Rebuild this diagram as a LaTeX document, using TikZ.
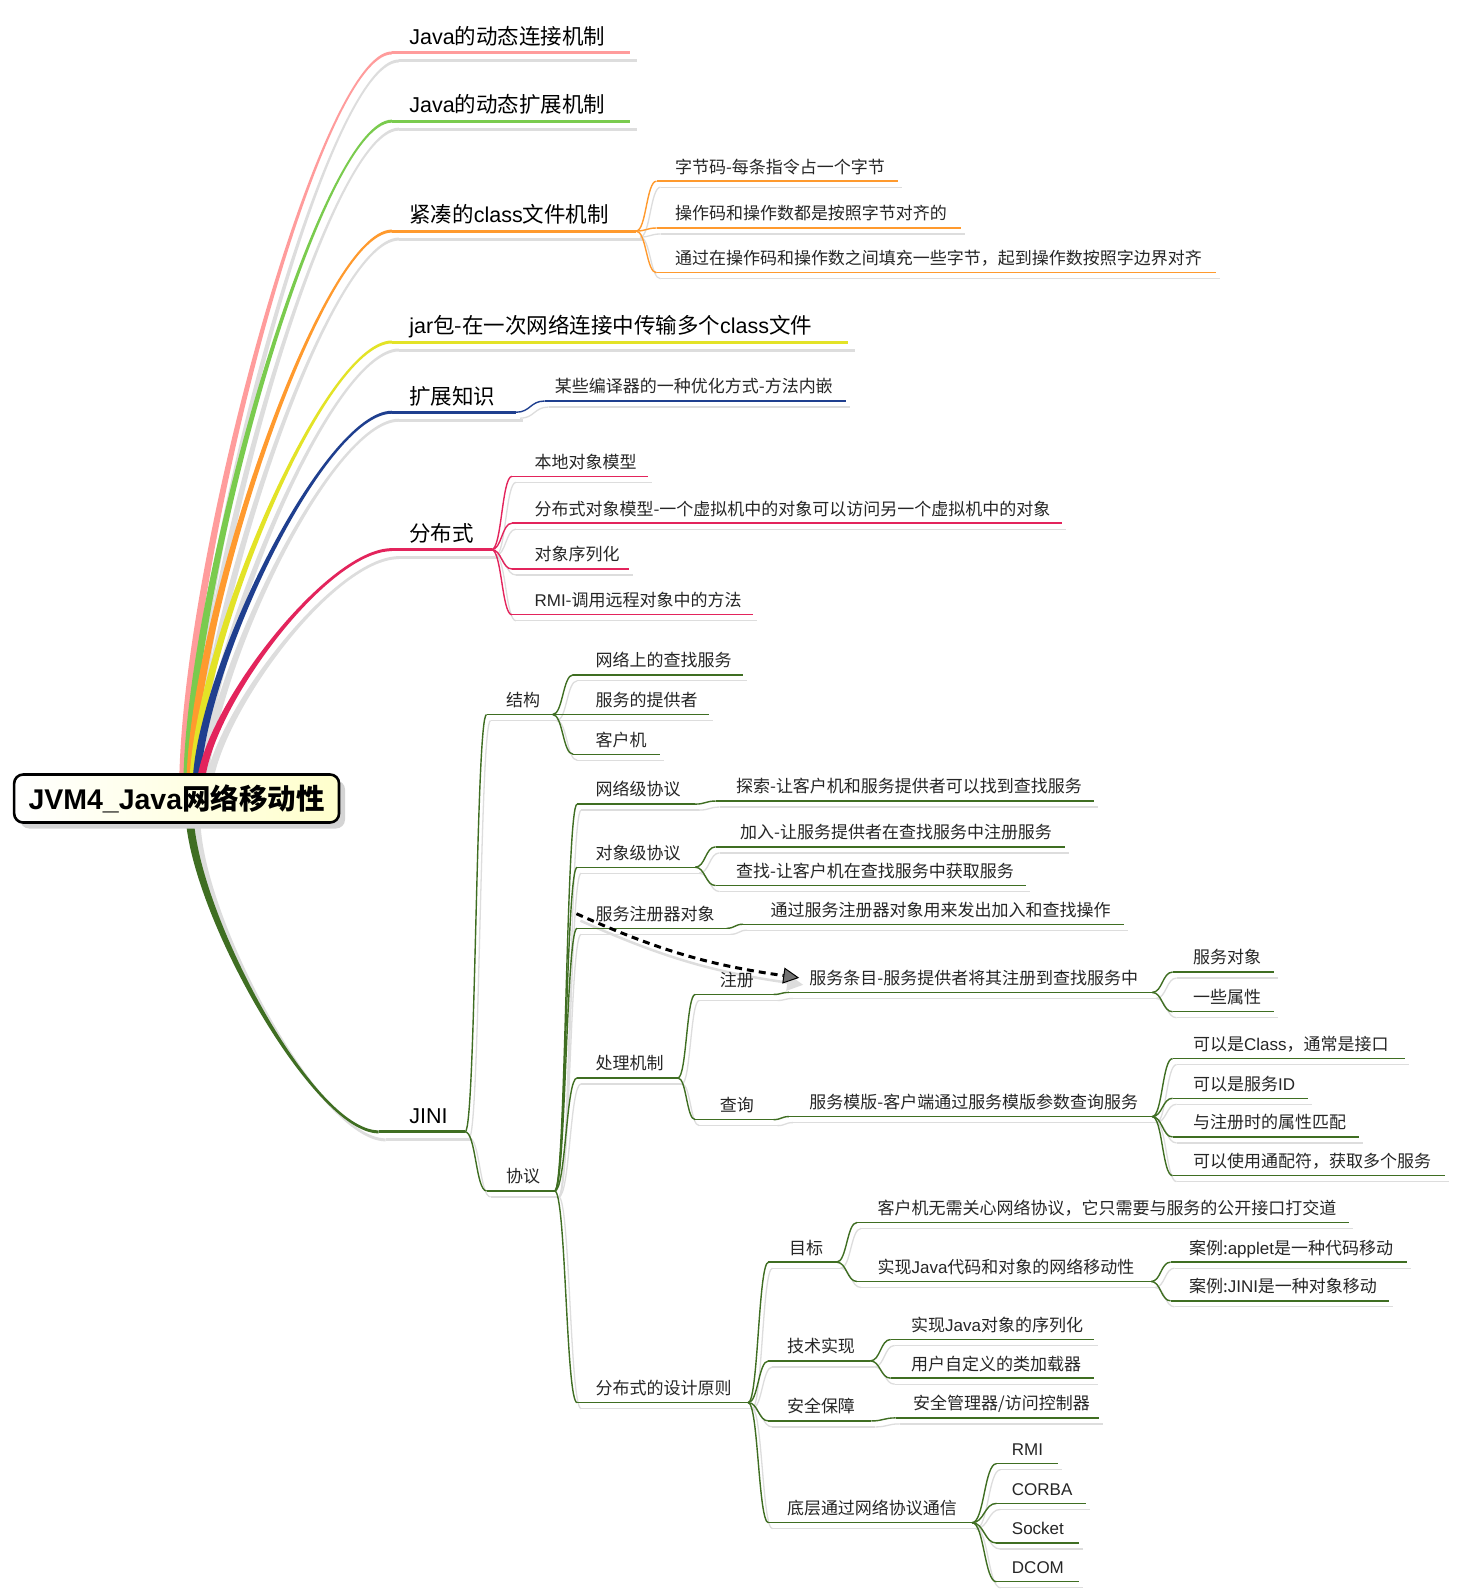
\documentclass[tikz,border=0pt]{standalone}
\usepackage{fontspec}
\setmainfont{Noto Sans CJK SC}
\newfontfamily\lat{Liberation Sans}
\usetikzlibrary{calc,arrows.meta,shadows}
\pgfdeclarelayer{back}
\pgfdeclarelayer{bg}
\pgfsetlayers{back,bg,main}
\definecolor{cpink}{HTML}{FF9C9C}
\definecolor{cgreen}{HTML}{7ACB4E}
\definecolor{corange}{HTML}{FF9A2E}
\definecolor{cyellow}{HTML}{E3E327}
\definecolor{cnavy}{HTML}{1F3F8F}
\definecolor{ccrimson}{HTML}{E3245C}
\definecolor{cdk}{HTML}{3F6E22}
\definecolor{shadowgray}{HTML}{DDDDDD}
\tikzset{
  txtA/.style={inner sep=0pt, font=\fontsize{21.5}{24}\selectfont, text=black},
  txtB/.style={inner sep=0pt, font=\fontsize{17}{20}\selectfont, text=black!85},
  shA/.style={draw=shadowgray, line width=3pt, transform canvas={xshift=7pt,yshift=-8pt}},
  shB/.style={draw=shadowgray, line width=1.3pt, transform canvas={xshift=4pt,yshift=-6pt}},
  lnA/.style={line width=3pt},
  lnB/.style={line width=1.4pt},
  rootbox/.style={draw=black, line width=2.6pt, rounded corners=9pt, minimum width=325pt,
    minimum height=48pt, inner sep=0pt, left color=white, right color=yellow!20,
    drop shadow={shadow xshift=6pt, shadow yshift=-6pt, fill=black!17, opacity=1},
    font=\fontsize{28.5}{32}\selectfont\bfseries},
}
% level-1 topic: name, xstart, xtext, xend, yline, color, text
\newcommand\tpA[7]{%
  \coordinate (#1-s) at (#2,#5);
  \coordinate (#1-e) at (#4,#5);
  \begin{pgfonlayer}{bg}\draw[shA] (#1-s) -- (#1-e);\end{pgfonlayer}
  \draw[lnA,#6] (#1-s) -- (#1-e);
  \node[txtA,anchor=base west] (#1) at (#3,{#5-8}) {#7};
}
% sub topic
\newcommand\tpB[7]{%
  \coordinate (#1-s) at (#2,#5);
  \coordinate (#1-e) at (#4,#5);
  \begin{pgfonlayer}{bg}\draw[shB] (#1-s) -- (#1-e);\end{pgfonlayer}
  \draw[lnB,#6] (#1-s) -- (#1-e);
  \node[txtB,anchor=base west] (#1) at (#3,{#5-8}) {#7};
}
% connector parent -> child
\newcommand\conn[3]{%
  \begin{pgfonlayer}{bg}
  \draw[shB] let \p1=(#1-e), \p2=(#2-s) in (\p1) .. controls ({0.5*\x1+0.5*\x2},{\y1}) and ({0.5*\x1+0.5*\x2},{\y2}) .. (\p2);
  \end{pgfonlayer}
  \draw[lnB,#3] let \p1=(#1-e), \p2=(#2-s) in (\p1) .. controls ({0.5*\x1+0.5*\x2},{\y1}) and ({0.5*\x1+0.5*\x2},{\y2}) .. (\p2);
}
% tapered root branch: start coord, child, color, end half width (signed)
\newcommand\rootbr[4]{%
  \begin{pgfonlayer}{bg}
  \fill[shadowgray, transform canvas={xshift=7pt,yshift=-8pt}] let \p1=(#1), \p2=(#2-s) in
    ({\x1-4pt},{\y1}) .. controls ({\x1-4pt},{0.7*\y1+0.3*\y2}) and ({0.35*\x1+0.65*\x2},{\y2+#4}) .. ({\x2},{\y2+#4})
    -- ({\x2},{\y2-#4}) .. controls ({0.35*\x1+0.65*\x2},{\y2-#4}) and ({\x1+4pt},{0.7*\y1+0.3*\y2}) .. ({\x1+4pt},{\y1}) -- cycle;
  \end{pgfonlayer}
  \fill[#3] let \p1=(#1), \p2=(#2-s) in
    ({\x1-4pt},{\y1}) .. controls ({\x1-4pt},{0.7*\y1+0.3*\y2}) and ({0.35*\x1+0.65*\x2},{\y2+#4}) .. ({\x2},{\y2+#4})
    -- ({\x2},{\y2-#4}) .. controls ({0.35*\x1+0.65*\x2},{\y2-#4}) and ({\x1+4pt},{0.7*\y1+0.3*\y2}) .. ({\x1+4pt},{\y1}) -- cycle;
}
\begin{document}
\begin{tikzpicture}[x=1.0182pt,y=-1.0182pt]
\begin{pgfonlayer}{back}
\fill[white] (0,0) rectangle (1432,1568);
\end{pgfonlayer}
\useasboundingbox (0,0) rectangle (1432,1568);

% ---------- level 1 ----------
\tpA{t1}{385}{402}{619}{52}{cpink}{{\lat Java}的动态连接机制}
\tpA{t2}{385}{402}{619}{119}{cgreen}{{\lat Java}的动态扩展机制}
\tpA{t3}{385}{402}{625}{227}{corange}{紧凑的{\lat class}文件机制}
\tpA{t4}{385}{402}{833}{336}{cyellow}{{\lat jar}包-在一次网络连接中传输多个{\lat class}文件}
\tpA{t5}{385}{402}{507}{405}{cnavy}{扩展知识}
\tpA{t6}{385}{402}{483}{540}{ccrimson}{分布式}
\tpA{t7}{372}{402}{457}{1112}{cdk}{{\lat JINI}}

% ---------- class ----------
\tpB{t31}{645}{663}{882}{178}{corange}{字节码-每条指令占一个字节}
\tpB{t32}{645}{663}{944}{224}{corange}{操作码和操作数都是按照字节对齐的}
\tpB{t33}{645}{663}{1195}{268}{corange}{通过在操作码和操作数之间填充一些字节，起到操作数按照字边界对齐}
\conn{t3}{t31}{corange}
\conn{t3}{t32}{corange}
\conn{t3}{t33}{corange}

% ---------- ext ----------
\tpB{t51}{535}{545}{831}{394}{cnavy}{某些编译器的一种优化方式-方法内嵌}
\conn{t5}{t51}{cnavy}

% ---------- dist ----------
\tpB{t61}{503}{525}{637}{468}{ccrimson}{本地对象模型}
\tpB{t62}{503}{525}{1043}{514}{ccrimson}{分布式对象模型-一个虚拟机中的对象可以访问另一个虚拟机中的对象}
\tpB{t63}{503}{525}{618}{559}{ccrimson}{对象序列化}
\tpB{t64}{503}{525}{740}{604}{ccrimson}{{\lat RMI}-调用远程对象中的方法}
\conn{t6}{t61}{ccrimson}
\conn{t6}{t62}{ccrimson}
\conn{t6}{t63}{ccrimson}
\conn{t6}{t64}{ccrimson}

% ---------- JINI ----------
\tpB{j1}{478}{497}{543}{702}{cdk}{结构}
\tpB{j11}{563}{585}{730}{663}{cdk}{网络上的查找服务}
\tpB{j12}{563}{585}{697}{702}{cdk}{服务的提供者}
\tpB{j13}{563}{585}{648}{741}{cdk}{客户机}
\tpB{j2}{478}{497}{545}{1170}{cdk}{协议}
\tpB{j21}{567}{585}{683}{790}{cdk}{网络级协议}
\tpB{j211}{703}{723}{1075}{787}{cdk}{探索-让客户机和服务提供者可以找到查找服务}
\tpB{j22}{567}{585}{683}{852}{cdk}{对象级协议}
\tpB{j221}{703}{727}{1046}{832}{cdk}{加入-让服务提供者在查找服务中注册服务}
\tpB{j222}{703}{723}{1008}{870}{cdk}{查找-让客户机在查找服务中获取服务}
\tpB{j23}{567}{585}{714}{912}{cdk}{服务注册器对象}
\tpB{j231}{730}{757}{1104}{908}{cdk}{通过服务注册器对象用来发出加入和查找操作}
\tpB{j24}{567}{585}{666}{1059}{cdk}{处理机制}
\tpB{j241}{683}{707}{760}{977}{cdk}{注册}
\tpB{j2411}{775}{795}{1132}{975}{cdk}{服务条目-服务提供者将其注册到查找服务中}
\tpB{j24111}{1152}{1172}{1252}{955}{cdk}{服务对象}
\tpB{j24112}{1152}{1172}{1252}{994}{cdk}{一些属性}
\tpB{j242}{683}{707}{760}{1100}{cdk}{查询}
\tpB{j2421}{775}{795}{1132}{1097}{cdk}{服务模版-客户端通过服务模版参数查询服务}
\tpB{j24211}{1152}{1172}{1380}{1040}{cdk}{可以是{\lat Class}，通常是接口}
\tpB{j24212}{1152}{1172}{1285}{1079}{cdk}{可以是服务{\lat ID}}
\tpB{j24213}{1152}{1172}{1335}{1117}{cdk}{与注册时的属性匹配}
\tpB{j24214}{1152}{1172}{1420}{1155}{cdk}{可以使用通配符，获取多个服务}
\tpB{j25}{567}{585}{735}{1378}{cdk}{分布式的设计原则}
\tpB{j251}{755}{775}{822}{1240}{cdk}{目标}
\tpB{j2511}{842}{862}{1325}{1201}{cdk}{客户机无需关心网络协议，它只需要与服务的公开接口打交道}
\tpB{j2512}{842}{862}{1131}{1259}{cdk}{实现{\lat Java}代码和对象的网络移动性}
\tpB{j25121}{1150}{1168}{1382}{1240}{cdk}{案例:{\lat applet}是一种代码移动}
\tpB{j25122}{1150}{1168}{1365}{1278}{cdk}{案例:{\lat JINI}是一种对象移动}
\tpB{j252}{755}{773}{855}{1337}{cdk}{技术实现}
\tpB{j2521}{875}{895}{1075}{1316}{cdk}{实现{\lat Java}对象的序列化}
\tpB{j2522}{875}{895}{1075}{1354}{cdk}{用户自定义的类加载器}
\tpB{j253}{755}{773}{856}{1396}{cdk}{安全保障}
\tpB{j2531}{880}{897}{1080}{1393}{cdk}{安全管理器/访问控制器}
\tpB{j254}{755}{773}{955}{1496}{cdk}{底层通过网络协议通信}
\tpB{j2541}{979}{994}{1039}{1438}{cdk}{{\lat RMI}}
\tpB{j2542}{979}{994}{1067}{1477}{cdk}{{\lat CORBA}}
\tpB{j2543}{979}{994}{1060}{1516}{cdk}{{\lat Socket}}
\tpB{j2544}{979}{994}{1060}{1554}{cdk}{{\lat DCOM}}

\conn{t7}{j1}{cdk}
\conn{t7}{j2}{cdk}
\conn{j1}{j11}{cdk}
\conn{j1}{j12}{cdk}
\conn{j1}{j13}{cdk}
\conn{j2}{j21}{cdk}
\conn{j2}{j22}{cdk}
\conn{j2}{j23}{cdk}
\conn{j2}{j24}{cdk}
\conn{j2}{j25}{cdk}
\conn{j21}{j211}{cdk}
\conn{j22}{j221}{cdk}
\conn{j22}{j222}{cdk}
\conn{j23}{j231}{cdk}
\conn{j24}{j241}{cdk}
\conn{j24}{j242}{cdk}
\conn{j241}{j2411}{cdk}
\conn{j2411}{j24111}{cdk}
\conn{j2411}{j24112}{cdk}
\conn{j242}{j2421}{cdk}
\conn{j2421}{j24211}{cdk}
\conn{j2421}{j24212}{cdk}
\conn{j2421}{j24213}{cdk}
\conn{j2421}{j24214}{cdk}
\conn{j25}{j251}{cdk}
\conn{j25}{j252}{cdk}
\conn{j25}{j253}{cdk}
\conn{j25}{j254}{cdk}
\conn{j251}{j2511}{cdk}
\conn{j251}{j2512}{cdk}
\conn{j2512}{j25121}{cdk}
\conn{j2512}{j25122}{cdk}
\conn{j252}{j2521}{cdk}
\conn{j252}{j2522}{cdk}
\conn{j253}{j2531}{cdk}
\conn{j254}{j2541}{cdk}
\conn{j254}{j2542}{cdk}
\conn{j254}{j2543}{cdk}
\conn{j254}{j2544}{cdk}

% ---------- root branches ----------
\coordinate (rb1) at (180,775);
\coordinate (rb2) at (184,775);
\coordinate (rb3) at (187,775);
\coordinate (rb4) at (190,775);
\coordinate (rb5) at (193,775);
\coordinate (rb6) at (197,775);
\coordinate (rb7) at (186,795);
\rootbr{rb1}{t1}{cpink}{1.5pt}
\rootbr{rb2}{t2}{cgreen}{1.5pt}
\rootbr{rb3}{t3}{corange}{1.5pt}
\rootbr{rb4}{t4}{cyellow}{1.5pt}
\rootbr{rb5}{t5}{cnavy}{1.5pt}
\rootbr{rb6}{t6}{ccrimson}{1.5pt}
\rootbr{rb7}{t7}{cdk}{-1.5pt}

% ---------- dashed relation ----------
\begin{pgfonlayer}{bg}
\draw[shadowgray, line width=2.5pt, transform canvas={xshift=4pt,yshift=-7pt},
  -{Triangle[length=16pt,width=16pt]}]
  ([xshift=-19pt]j23.west) to[bend right=8] ([xshift=-10pt]j2411.west);
\end{pgfonlayer}
\draw[black, line width=3pt, dash pattern=on 7pt off 5pt,
  -{Triangle[length=16pt,width=16pt,fill=black!55,line width=1pt]}]
  ([xshift=-19pt]j23.west) to[bend right=8] ([xshift=-10pt]j2411.west);

% ---------- root ----------
\node[rootbox] (root) at (173.5,784.5) {{\lat JVM4\_Java}网络移动性};
\end{tikzpicture}
\end{document}
